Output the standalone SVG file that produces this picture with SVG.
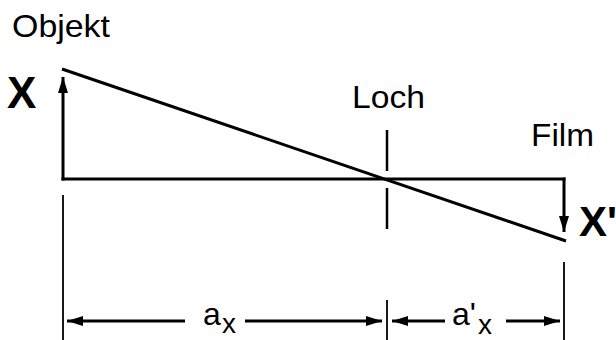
<svg xmlns="http://www.w3.org/2000/svg" width="616" height="340" viewBox="0 0 616 340">
<defs>
<style>
.ln{stroke:#000;stroke-width:3;fill:none;stroke-linecap:butt}
.thin{stroke:#000;stroke-width:1.8;fill:none}
.loch{stroke:#000;stroke-width:2.5;fill:none}
.t{font-family:"Liberation Sans",Arial,sans-serif;fill:#000}
.b{font-family:"Liberation Sans",Arial,sans-serif;font-weight:bold;fill:#000}
</style>
<marker id="ah" viewBox="0 0 16 10" refX="16" refY="5" markerWidth="16" markerHeight="10" markerUnits="userSpaceOnUse" orient="auto">
<path d="M0,0 L16,5 L0,10 Z" fill="#000"/>
</marker>
</defs>
<rect width="616" height="340" fill="#fff"/>
<g id="labels">
<text class="t" x="12" y="37" font-size="32" textLength="98" lengthAdjust="spacingAndGlyphs">Objekt</text>
<text class="b" x="7" y="108" font-size="44">X</text>
<text class="t" x="352" y="108" font-size="31" textLength="73" lengthAdjust="spacingAndGlyphs">Loch</text>
<text class="t" x="531" y="146" font-size="31" textLength="63" lengthAdjust="spacingAndGlyphs">Film</text>
<text class="b" x="579" y="236" font-size="42">X'</text>
<text class="t" x="203" y="325" font-size="32">a</text>
<text class="t" x="222" y="333" font-size="28">x</text>
<text class="t" x="452" y="325" font-size="32">a'</text>
<text class="t" x="478" y="334" font-size="28">x</text>
</g>
<g id="objekt">
<line class="ln" x1="63" y1="180.5" x2="63" y2="77" marker-end="url(#ah)"/>
</g>
<g id="loch">
<line class="loch" x1="387" y1="130" x2="387" y2="171"/>
<line class="loch" x1="387" y1="188" x2="387" y2="229"/>
</g>
<g id="film">
<line class="ln" x1="564" y1="177.5" x2="564" y2="232" marker-end="url(#ah)"/>
</g>
<g id="connectors">
<line class="ln" x1="61.5" y1="179" x2="565.5" y2="179"/>
<line class="ln" x1="62" y1="69" x2="566" y2="241"/>
<line class="thin" x1="63" y1="195" x2="63" y2="340"/>
<line class="thin" x1="387" y1="300" x2="387" y2="340"/>
<line class="thin" x1="564" y1="262" x2="564" y2="340"/>
<line class="ln" x1="185" y1="321" x2="67" y2="321" marker-end="url(#ah)"/>
<line class="ln" x1="245" y1="321" x2="382" y2="321" marker-end="url(#ah)"/>
<line class="ln" x1="445" y1="321" x2="392" y2="321" marker-end="url(#ah)"/>
<line class="ln" x1="506" y1="321" x2="560" y2="321" marker-end="url(#ah)"/>
</g>
</svg>
